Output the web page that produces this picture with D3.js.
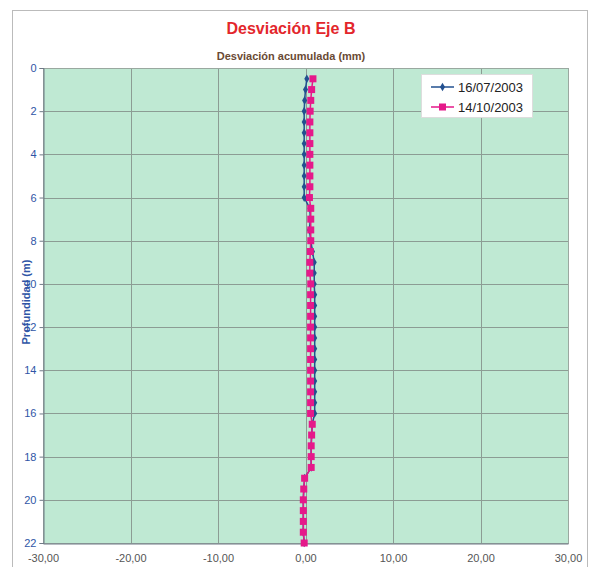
<!DOCTYPE html>
<html><head><meta charset="utf-8">
<script src="https://cdn.jsdelivr.net/npm/d3@7"></script>
<style>body{margin:0;background:#fff}svg{display:block;font-family:Arial,"Liberation Sans",sans-serif}</style>
</head><body><svg id="c" width="590" height="567"></svg>
<script>
const depths = [0.5,1,1.5,2,2.5,3,3.5,4,4.5,5,5.5,6,6.5,7,7.5,8,8.5,9,9.5,10,10.5,11,11.5,12,12.5,13,13.5,14,14.5,15,15.5,16,16.5,17,17.5,18,18.5,19,19.5,20,20.5,21,21.5,22];
const serie1 = [0.15,0,-0.1,-0.15,-0.15,-0.15,-0.15,-0.15,-0.15,-0.15,-0.15,-0.15,0.5,0.55,0.45,0.6,0.8,1.0,1.0,1.0,1.05,1.05,1.05,1.05,1.05,1.05,1.05,1.05,1.05,1.05,1.05,1.05,0.77,0.7,0.65,0.65,0.65,-0.1,-0.2,-0.25,-0.25,-0.25,-0.25,-0.15];
const serie2 = [0.85,0.7,0.6,0.53,0.5,0.5,0.5,0.5,0.5,0.5,0.5,0.45,0.6,0.6,0.6,0.6,0.55,0.5,0.5,0.6,0.58,0.58,0.58,0.58,0.58,0.58,0.58,0.58,0.58,0.58,0.58,0.58,0.77,0.7,0.65,0.65,0.65,-0.1,-0.2,-0.25,-0.25,-0.25,-0.25,-0.15];
const seriesNames = ["16/07/2003","14/10/2003"];
const xTicks = [-30,-20,-10,0,10,20,30];
const yTicks = [0,2,4,6,8,10,12,14,16,18,20,22];

const svg = d3.select("#c");
const L=43,R=568,T=68,B=543;
const x = d3.scaleLinear().domain([-30,30]).range([L,R]);
const y = d3.scaleLinear().domain([0,22]).range([T,B]);

// outer frame
svg.append("rect").attr("x",12.5).attr("y",10.5).attr("width",575).attr("height",560).attr("fill","#fff").attr("stroke","#bbbbbb");

// plot area
svg.append("rect").attr("x",L).attr("y",T).attr("width",R-L).attr("height",B-T).attr("fill","#bfe9d3");
// grid
svg.append("g").selectAll("line").data(xTicks).join("line")
  .attr("x1",d=>Math.round(x(d))+0.5).attr("x2",d=>Math.round(x(d))+0.5).attr("y1",T).attr("y2",B)
  .attr("stroke","#8c9c94").attr("stroke-width",1);
svg.append("g").selectAll("line").data(yTicks).join("line")
  .attr("x1",L).attr("x2",R).attr("y1",d=>Math.round(y(d))+0.5).attr("y2",d=>Math.round(y(d))+0.5)
  .attr("stroke","#8c9c94").attr("stroke-width",1);
svg.append("rect").attr("x",L+0.5).attr("y",T+0.5).attr("width",R-L).attr("height",B-T).attr("fill","none").attr("stroke","#9aa8a0");

// axes
const fmt = d=>d3.format(".2f")(d).replace(".",",").replace("\u2212","-");
const gy = svg.append("g").attr("transform",`translate(${L+0.5},0)`).call(d3.axisLeft(y).tickValues(yTicks).tickSize(4).tickPadding(3));
gy.select(".domain").attr("stroke","#6f7a86");
gy.selectAll(".tick line").attr("stroke","#6f7a86");
gy.selectAll("text").attr("fill","#2f55a6").attr("font-size",11).attr("font-family","Arial");
const gx = svg.append("g").attr("transform",`translate(0,${B+0.5})`).call(d3.axisBottom(x).tickValues(xTicks).tickFormat(fmt).tickSize(0).tickPadding(11));
gx.select(".domain").attr("stroke","#6f7a86");
gx.selectAll("text").attr("fill","#555").attr("font-size",11).attr("font-family","Arial");

// titles
svg.append("text").attr("x",291).attr("y",34).attr("text-anchor","middle").attr("font-size",16).attr("font-weight","bold").attr("fill","#e3262b").text("Desviación Eje B");
svg.append("text").attr("x",291).attr("y",60).attr("text-anchor","middle").attr("font-size",11).attr("font-weight","bold").attr("fill","#6a4a34").text("Desviación acumulada (mm)");
svg.append("text").attr("transform","translate(30,302) rotate(-90)").attr("text-anchor","middle").attr("font-size",11).attr("font-weight","bold").attr("fill","#2f55a6").text("Profundidad (m)");

// series
const line = d3.line().x(d=>x(d[0])).y(d=>y(d[1]));
const d1 = serie1.map((v,i)=>[v,depths[i]]);
const d2 = serie2.map((v,i)=>[v,depths[i]]);
const blue="#22508f", pink="#e5198a";
svg.append("path").datum(d1).attr("d",line).attr("fill","none").attr("stroke",blue).attr("stroke-width",1.5);
svg.append("g").selectAll("path").data(d1).join("path")
  .attr("d",d3.symbol(d3.symbolDiamond,22)).attr("transform",d=>`translate(${x(d[0])},${y(d[1])})`).attr("fill",blue);
svg.append("path").datum(d2).attr("d",line).attr("fill","none").attr("stroke",pink).attr("stroke-width",1.5);
svg.append("g").selectAll("rect").data(d2).join("rect")
  .attr("x",d=>x(d[0])-3.5).attr("y",d=>y(d[1])-3.5).attr("width",7).attr("height",7).attr("fill",pink);

// legend
const lg = svg.append("g").attr("transform","translate(421,74)");
lg.append("rect").attr("x",0.5).attr("y",0.5).attr("width",111).attr("height",43).attr("fill","#fff").attr("stroke","#ddd");
seriesNames.forEach((n,i)=>{
  const yy = 13+i*20, c = i?pink:blue;
  lg.append("line").attr("x1",10).attr("x2",33).attr("y1",yy).attr("y2",yy).attr("stroke",c).attr("stroke-width",1.5);
  if(i) lg.append("rect").attr("x",18).attr("y",yy-3.5).attr("width",7).attr("height",7).attr("fill",c);
  else lg.append("path").attr("d",d3.symbol(d3.symbolDiamond,22)).attr("transform",`translate(21.5,${yy})`).attr("fill",c);
  lg.append("text").attr("x",37).attr("y",yy+4.5).attr("font-size",13).attr("fill","#222").text(n);
});
</script></body></html>
